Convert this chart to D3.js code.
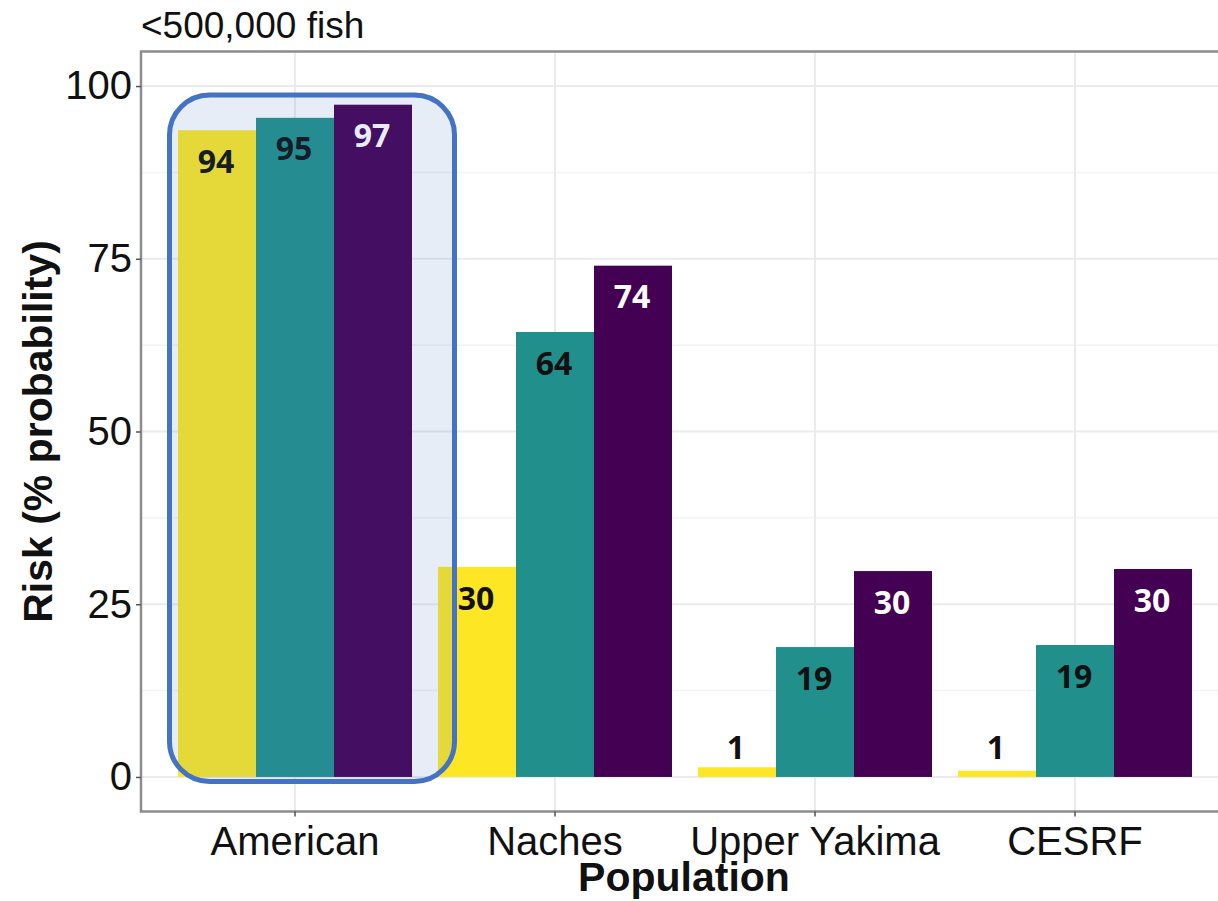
<!DOCTYPE html>
<html>
<head>
<meta charset="utf-8">
<script src="https://cdn.jsdelivr.net/npm/d3@7"></script>
<style>
  body { margin: 0; background: #fff; }
  svg { display: block; }
</style>
</head>
<body>
<script>
var populations = ["American", "Naches", "Upper Yakima", "CESRF"];
var series = ["low", "mid", "high"];
var lowRisk = [93.6, 30.4, 1.4, 0.9];
var midRisk = [95.4, 64.4, 18.8, 19.1];
var highRisk = [97.3, 74.0, 29.8, 30.1];
var yTicks = [0, 25, 50, 75, 100];
var yMinor = [12.5, 37.5, 62.5, 87.5];
var colors = ["#FDE725", "#21908C", "#440154"];
var labelColors = ["#111", "#111", "#fff"];

var width = 1218;
var height = 901;
var panel = { left: 141, right: 1233, top: 51.5, bottom: 811.5 };

var rows = [];
populations.forEach(function(p, i) {
  [lowRisk, midRisk, highRisk].forEach(function(arr, j) {
    rows.push({ pop: p, s: series[j], k: j, v: arr[i] });
  });
});

var svg = d3.select("body").append("svg")
  .attr("width", width)
  .attr("height", height);

var x = d3.scaleBand()
  .domain(populations)
  .range([panel.left - 2, panel.right - 2])
  .paddingInner(0.1)
  .paddingOuter(0.15);

var xs = d3.scaleBand()
  .domain(series)
  .range([0, x.bandwidth()]);

var y = d3.scaleLinear()
  .domain([-5, 105])
  .range([panel.bottom, panel.top]);

// grid
svg.append("g").selectAll("line.minor")
  .data(yMinor).enter().append("line")
  .attr("x1", panel.left).attr("x2", panel.right)
  .attr("y1", function(d) { return y(d); })
  .attr("y2", function(d) { return y(d); })
  .attr("stroke", "#f3f3f3").attr("stroke-width", 1.5);

svg.append("g").selectAll("line.major")
  .data(yTicks).enter().append("line")
  .attr("x1", panel.left).attr("x2", panel.right)
  .attr("y1", function(d) { return y(d); })
  .attr("y2", function(d) { return y(d); })
  .attr("stroke", "#ebebeb").attr("stroke-width", 2);

svg.append("g").selectAll("line.vgrid")
  .data(populations).enter().append("line")
  .attr("x1", function(d) { return x(d) + x.bandwidth() / 2; })
  .attr("x2", function(d) { return x(d) + x.bandwidth() / 2; })
  .attr("y1", panel.top).attr("y2", panel.bottom)
  .attr("stroke", "#ebebeb").attr("stroke-width", 2);

// bars
svg.append("g").selectAll("rect")
  .data(rows).enter().append("rect")
  .attr("x", function(d) { return x(d.pop) + xs(d.s); })
  .attr("y", function(d) { return y(d.v); })
  .attr("width", xs.bandwidth())
  .attr("height", function(d) { return y(0) - y(d.v); })
  .attr("fill", function(d) { return colors[d.k]; });

// value labels
svg.append("g").selectAll("text")
  .data(rows).enter().append("text")
  .text(function(d) { return Math.round(d.v); })
  .attr("x", function(d) { return x(d.pop) + xs(d.s) + xs.bandwidth() / 2 - 1; })
  .attr("y", function(d) { return y(Math.max(d.v - 4.5, 4.3)); })
  .attr("dy", "0.36em")
  .attr("text-anchor", "middle")
  .attr("font-family", "'Open Sans', sans-serif")
  .attr("font-weight", "bold")
  .attr("font-size", "32px")
  .attr("fill", function(d) { return labelColors[d.k]; });

// panel border
svg.append("rect")
  .attr("x", panel.left).attr("y", panel.top)
  .attr("width", panel.right - panel.left)
  .attr("height", panel.bottom - panel.top)
  .attr("fill", "none")
  .attr("stroke", "#8c8c8c")
  .attr("stroke-width", 2.5);

// axes
var yAxis = svg.append("g")
  .attr("transform", "translate(" + panel.left + ",0)")
  .call(d3.axisLeft(y).tickValues(yTicks).tickSize(5).tickPadding(4));
var xAxis = svg.append("g")
  .attr("transform", "translate(0," + panel.bottom + ")")
  .call(d3.axisBottom(x).tickSize(5).tickPadding(8));

[yAxis, xAxis].forEach(function(ax) {
  ax.select(".domain").remove();
  ax.selectAll(".tick line").attr("stroke", "#555").attr("stroke-width", 1.5);
  ax.selectAll(".tick text")
    .attr("font-family", "'Liberation Sans', Arial, sans-serif")
    .attr("font-size", "40px")
    .attr("fill", "#111");
});
xAxis.selectAll(".tick text").attr("dy", "0.75em");

// highlight box around American
var hx0 = x("American") - 8.5;
var hx1 = x("American") + x.bandwidth() + 42.5;
svg.append("rect")
  .attr("x", hx0)
  .attr("y", y(98.7))
  .attr("width", hx1 - hx0)
  .attr("height", y(-0.65) - y(98.7))
  .attr("rx", 40).attr("ry", 40)
  .attr("fill", "rgba(68,114,196,0.13)")
  .attr("stroke", "#4472C4")
  .attr("stroke-width", 5);

// titles
svg.append("text")
  .text("<500,000 fish")
  .attr("x", 141).attr("y", 38)
  .attr("font-family", "'Liberation Sans', Arial, sans-serif")
  .attr("font-size", "37px")
  .attr("fill", "#111");

svg.append("text")
  .text("Population")
  .attr("x", (panel.left + panel.right) / 2 - 3).attr("y", 891)
  .attr("text-anchor", "middle")
  .attr("font-family", "'Liberation Sans', Arial, sans-serif")
  .attr("font-weight", "bold")
  .attr("font-size", "41px")
  .attr("fill", "#111");

svg.append("text")
  .text("Risk (% probability)")
  .attr("transform", "translate(52," + y(50) + ") rotate(-90)")
  .attr("text-anchor", "middle")
  .attr("font-family", "'Liberation Sans', Arial, sans-serif")
  .attr("font-weight", "bold")
  .attr("font-size", "41px")
  .attr("fill", "#111");
</script>
</body>
</html>
